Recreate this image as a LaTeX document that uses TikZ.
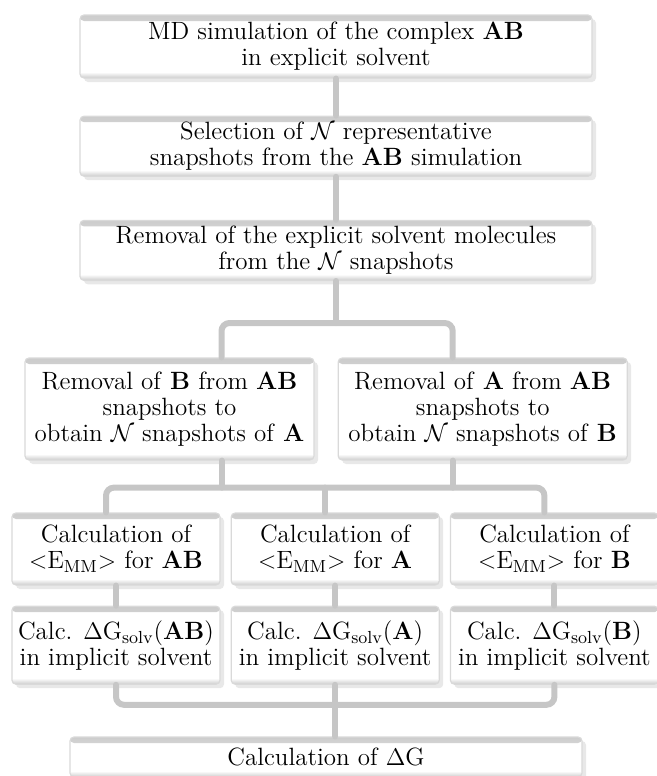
\documentclass[tikz,border=0pt]{standalone}
\usepackage{tikz}
\usepackage{amsmath}
\usetikzlibrary{positioning,calc,shadows}

\begin{document}
\begin{tikzpicture}[
    x=0.5pt, y=-0.5pt,
    node distance=10pt,
    box/.style={
        draw=gray!30,
        line width=0.6pt,
        fill=white,
        rounded corners=2pt,
        inner sep=1pt,
        align=center,
        font=\fontsize{12.5}{13}\selectfont,
        drop shadow={opacity=0.18, shadow xshift=2pt, shadow yshift=-2pt},
        path picture={
            \shade[top color=gray!40, bottom color=white]
                (path picture bounding box.north west) rectangle ([yshift=-3pt]path picture bounding box.north east);
            \shade[top color=white, bottom color=gray!40]
                ([yshift=3pt]path picture bounding box.south west) rectangle (path picture bounding box.south east);
        }
    },
    wide/.style={box, minimum width=256pt, minimum height=30pt},
    half/.style={box, minimum width=144.5pt, minimum height=51pt},
    third/.style={box, minimum width=104pt, minimum height=36pt},
    link/.style={draw=gray!45, line width=3pt, line cap=round, rounded corners=4pt}
]
\useasboundingbox (0,0) rectangle (657,776);

\node[wide, minimum height=31.5pt] (md) at (336,46.5) {MD simulation of the complex \textbf{AB}\\in explicit solvent};
\node[wide, below=18.5pt of md] (sel) {Selection of $\mathcal{N}$ representative\\snapshots from the \textbf{AB} simulation};
\node[wide, below=21.5pt of sel] (rem) {Removal of the explicit solvent molecules\\from the $\mathcal{N}$ snapshots};

\node[half] (remB) at (169.5,409) {Removal of \textbf{B} from \textbf{AB}\\snapshots to\\obtain $\mathcal{N}$ snapshots of \textbf{A}};
\node[half, right=11.5pt of remB] (remA) {Removal of \textbf{A} from \textbf{AB}\\snapshots to\\obtain $\mathcal{N}$ snapshots of \textbf{B}};

\node[third] (emAB) at (116,549) {Calculation of\\$<$E\textsubscript{MM}$>$ for \textbf{AB}};
\node[third, right=5pt of emAB] (emA) {Calculation of\\$<$E\textsubscript{MM}$>$ for \textbf{A}};
\node[third, right=5pt of emA] (emB) {Calculation of\\$<$E\textsubscript{MM}$>$ for \textbf{B}};

\node[third, minimum height=39pt, below=10pt of emAB] (gAB) {Calc. $\Delta$G\textsubscript{solv}(\textbf{AB})\\in implicit solvent};
\node[third, minimum height=39pt, below=10pt of emA] (gA) {Calc. $\Delta$G\textsubscript{solv}(\textbf{A})\\in implicit solvent};
\node[third, minimum height=39pt, below=10pt of emB] (gB) {Calc. $\Delta$G\textsubscript{solv}(\textbf{B})\\in implicit solvent};

\node[wide, minimum height=20pt] (dG) at (326,757) {Calculation of $\Delta$G};

\coordinate (fork1) at ([yshift=-21pt]rem.south);
\coordinate (fork2) at ([yshift=-13.5pt]remB.south);
\coordinate (fork3) at ([yshift=-10pt]gA.south);
\coordinate (inB) at ([xshift=26pt]remB.north);
\coordinate (inA) at ([xshift=-15pt]remA.north);
\coordinate (outB) at ([xshift=26pt]remB.south);
\coordinate (outA) at ([xshift=-15pt]remA.south);
\coordinate (toAB) at ([xshift=-5pt]emAB.north);
\coordinate (toA) at ([xshift=-5pt]emA.north);
\coordinate (toB) at ([xshift=-5pt]emB.north);

\draw[link] (md) -- (sel);
\draw[link] (sel) -- (rem);
\draw[link] (rem.south) -- (fork1);
\draw[link] (inB) |- (fork1) -| (inA);
\draw[link] (outB) -- (outB |- fork2);
\draw[link] (outA) -- (outA |- fork2);
\draw[link] (toAB) |- (fork2) -| (toB);
\draw[link] (toA) -- (toA |- fork2);
\foreach \n in {AB,A,B}
    \draw[link] (em\n) -- (g\n);
\draw[link] (gAB.south) |- (fork3) -| (gB.south);
\draw[link] (gA.south) -- (fork3) -- (fork3 |- dG.north);
\end{tikzpicture}
\end{document}
